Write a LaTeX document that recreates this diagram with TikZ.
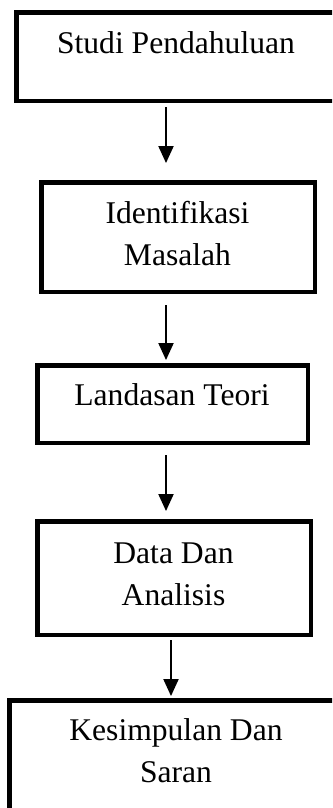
\documentclass[tikz,border=0pt]{standalone}
\usepackage{fontspec}
\setmainfont{Liberation Serif}
\usetikzlibrary{arrows.meta}
\begin{document}
\begin{tikzpicture}[x=1pt,y=-1pt,
  box/.style={draw=black, line width=4.5pt, rectangle, inner sep=0pt},
  lbl/.style={anchor=base, align=center, inner sep=0pt, font=\fontsize{31.6}{42}\selectfont},
  arr/.style={draw=black, line width=2pt, -{Triangle[width=15pt,length=17pt]}}]
\useasboundingbox (0,0) rectangle (332,808);
\fill[white] (0,0) rectangle (332,808);
\clip (0,0) rectangle (332,808);
% boxes (border centre lines)
\node[box, minimum width=330pt, minimum height=88.5pt] (b1) at (181.3,56.55) {};
\node[box, minimum width=273.5pt, minimum height=109.5pt] (b2) at (178.05,237.05) {};
\node[box, minimum width=270.5pt, minimum height=77.5pt] (b3) at (172.55,404.05) {};
\node[box, minimum width=273.5pt, minimum height=113.5pt] (b4) at (174.05,578.05) {};
\node[box, minimum width=340pt, minimum height=130pt] (b5) at (179.3,765.3) {};
% texts (base anchor = baseline of last line)
\node[lbl] (t1) at (176,53.3) {Studi Pendahuluan};
\node[lbl] (t2) at (177.5,265) {Identifikasi\\Masalah};
\node[lbl] (t3) at (172,405) {Landasan Teori};
\node[lbl] (t4) at (173.5,605) {Data Dan\\Analisis};
\node[lbl] (t5) at (176,782) {Kesimpulan Dan\\Saran};
% connectors
\coordinate (c1) at (166,0);
\coordinate (c4) at (171,0);
\draw[arr, shorten <=4pt, shorten >=17pt] (b1.south -| c1) -- (b2.north -| c1);
\draw[arr, shorten <=11pt, shorten >=3pt] (b2.south -| c1) -- (b3.north -| c1);
\draw[arr, shorten <=10pt, shorten >=8pt] (b3.south -| c1) -- (b4.north -| c1);
\draw[arr, shorten <=3pt, shorten >=2pt] (b4.south -| c4) -- (b5.north -| c4);
\end{tikzpicture}
\end{document}
